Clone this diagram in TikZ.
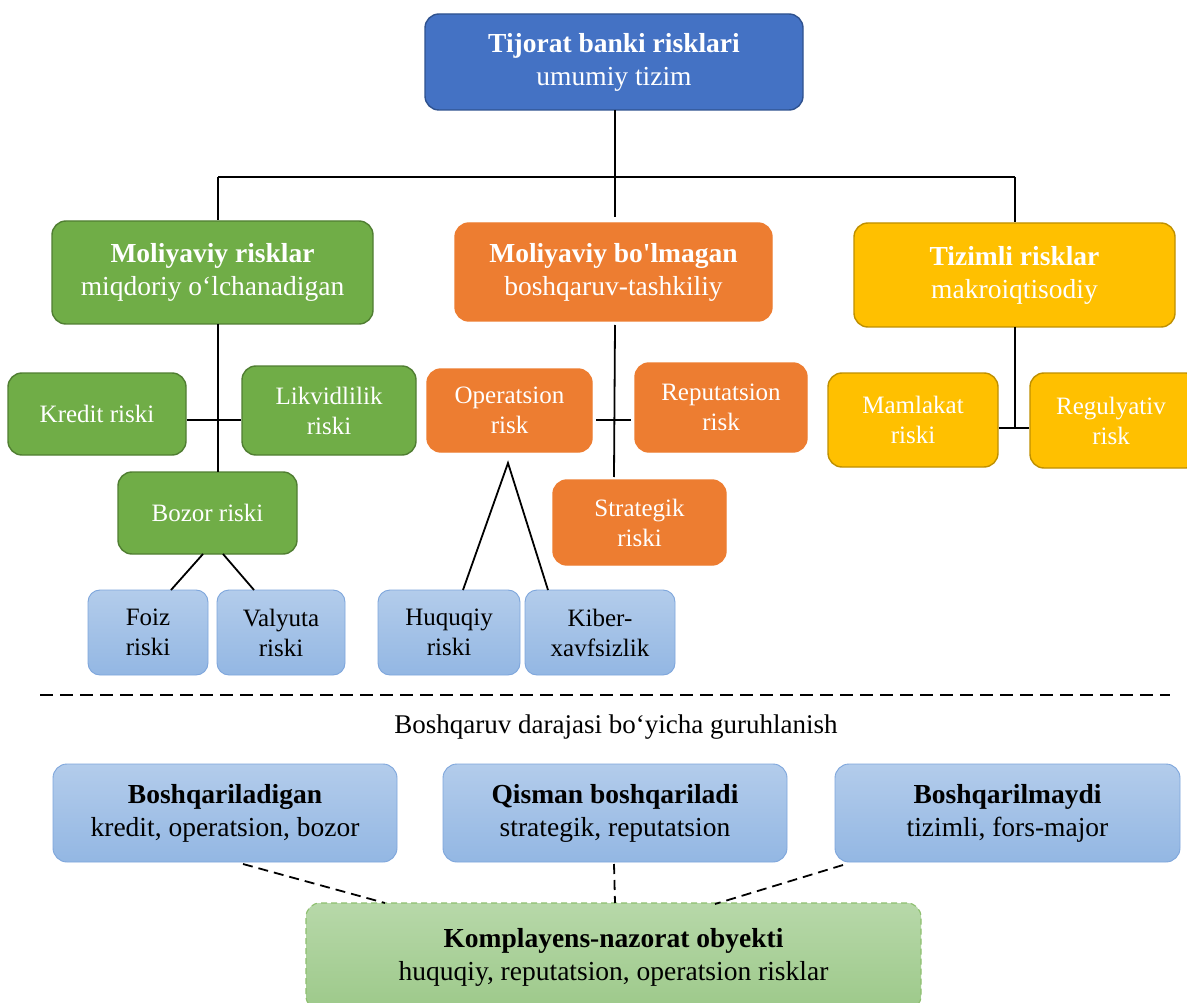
\documentclass[tikz,border=0pt]{standalone}
\usepackage{fontspec}
\setmainfont{Liberation Serif}
\definecolor{cblue}{HTML}{4472C4}
\definecolor{cblued}{HTML}{2F528F}
\definecolor{cgreen}{HTML}{70AD47}
\definecolor{cgreend}{HTML}{507E32}
\definecolor{corange}{HTML}{ED7D31}
\definecolor{cyellow}{HTML}{FFC000}
\definecolor{cyellowd}{HTML}{BF9000}
\definecolor{lbtop}{HTML}{B3CCEB}
\definecolor{lbbot}{HTML}{93B7E3}
\definecolor{lbdraw}{HTML}{7EA6DC}
\definecolor{lgtop}{HTML}{B7D8A9}
\definecolor{lgbot}{HTML}{9DC98A}
\definecolor{lgdraw}{HTML}{8DBF6E}
\tikzset{
  bx/.style={rounded corners=14pt, inner sep=0pt, align=center, line width=1.4pt},
  bigfont/.style={font=\fontsize{27.5}{33}\selectfont},
  smallfont/.style={font=\fontsize{25}{30}\selectfont},
  bluebox/.style={bx, bigfont, fill=cblue, draw=cblued, text=white},
  greenbox/.style={bx, fill=cgreen, draw=cgreend, text=white},
  orangebox/.style={bx, fill=corange, draw=corange, text=white},
  yellowbox/.style={bx, fill=cyellow, draw=cyellowd, text=white},
  lbluebox/.style={bx, rounded corners=12pt, top color=lbtop, bottom color=lbbot, draw=lbdraw, line width=0.9pt, text=black},
  lgreenbox/.style={bx, top color=lgtop, bottom color=lgbot, draw=lgdraw, dash pattern=on 6pt off 4pt, line width=1.1pt, text=black},
  conn/.style={line width=1.8pt, black},
  dconn/.style={line width=1.8pt, black, dash pattern=on 10pt off 6pt},
}
\begin{document}
\begin{tikzpicture}[x=1pt,y=-1pt]
\clip (0,0) rectangle (1187,1003);
\fill[white] (0,0) rectangle (1187,1003);

% top
\node[bluebox, minimum width=378pt, minimum height=96pt] (top) at (614,62) {\textbf{Tijorat banki risklari}\\umumiy tizim};

% level 1
\node[greenbox, bigfont, minimum width=321pt, minimum height=103pt] (fin) at (212.5,272.5) {\textbf{Moliyaviy risklar}\\miqdoriy o‘lchanadigan};
\node[orangebox, bigfont, minimum width=317pt, minimum height=98pt] (nonfin) at (613.5,272) {\textbf{Moliyaviy bo\textquotesingle lmagan}\\boshqaruv-tashkiliy};
\node[yellowbox, bigfont, minimum width=321pt, minimum height=104pt] (sys) at (1014.5,275) {\textbf{Tizimli risklar}\\makroiqtisodiy};

% green children
\node[greenbox, smallfont, minimum width=178pt, minimum height=82pt] (kredit) at (97,414) {Kredit riski};
\node[greenbox, smallfont, minimum width=174pt, minimum height=89pt] (likvid) at (329,410.5) {Likvidlilik\\riski};
\node[greenbox, smallfont, minimum width=179pt, minimum height=82pt] (bozor) at (207.5,513) {Bozor riski};
\node[lbluebox, smallfont, minimum width=120pt, minimum height=85pt] (foiz) at (148,632.5) {Foiz\\riski};
\node[lbluebox, smallfont, minimum width=128pt, minimum height=85pt] (valyuta) at (281,632.5) {Valyuta\\riski};

% orange children
\node[orangebox, smallfont, minimum width=165pt, minimum height=83pt] (oper) at (509.5,410.5) {Operatsion\\risk};
\node[orangebox, smallfont, minimum width=172pt, minimum height=89pt] (reput) at (721,407.5) {Reputatsion\\risk};
\node[orangebox, smallfont, minimum width=173pt, minimum height=85pt] (strat) at (639.5,522.5) {Strategik\\riski};
\node[lbluebox, smallfont, minimum width=142pt, minimum height=85pt] (huquq) at (449,632.5) {Huquqiy\\riski};
\node[lbluebox, smallfont, minimum width=150pt, minimum height=85pt] (kiber) at (600,632.5) {Kiber-\\xavfsizlik};

% yellow children
\node[yellowbox, smallfont, minimum width=170pt, minimum height=94pt] (mamlakat) at (913,420) {Mamlakat\\riski};
\node[yellowbox, smallfont, minimum width=170pt, minimum height=95pt, text width=150pt] (regul) at (1115,420.5) {\hspace*{-8pt}Regulyativ\\\hspace*{-8pt}risk};

% top connectors
\coordinate (j0) at (615,177);
\coordinate (jl) at (218,177);
\coordinate (jr) at (1015,177);
\draw[conn] (615,110) -- (j0);
\draw[conn] (jl) -- (jr);
\draw[conn] (j0) -- (615,217);
\draw[conn] (jl) -- (218,220);
\draw[conn] (jr) -- (1015,222);

% green connectors
\coordinate (gj) at (218,420);
\draw[conn] (218,324) -- (218,472);
\draw[conn] (kredit.east |- gj) -- (likvid.west |- gj);
\draw[conn] (203,554) -- (171,590);
\draw[conn] (223,554) -- (254,590);

% orange connectors
\draw[conn] (615,325) -- (614,477);
\draw[conn] (596,420) -- (631,420);
\coordinate (apex) at (508,463);
\draw[conn] (463,590) -- (apex) -- (548,590);

% yellow connectors
\coordinate (yj) at (1015,428);
\draw[conn] (1015,327) -- (yj);
\draw[conn] (mamlakat.east |- yj) -- (regul.west |- yj);

% separator
\coordinate (s1) at (40,695);
\coordinate (s2) at (1170,695);
\draw[line width=1.6pt, dash pattern=on 13pt off 7pt] (s1) -- (s2);
\node[font=\fontsize{27}{32}\selectfont, inner sep=0pt] (sep) at (616,727) {Boshqaruv darajasi bo‘yicha guruhlanish};

% bottom boxes
\node[lbluebox, bigfont, rounded corners=14pt, minimum width=344pt, minimum height=98pt] (b1) at (225,813) {\textbf{Boshqariladigan}\\kredit, operatsion, bozor};
\node[lbluebox, bigfont, rounded corners=14pt, minimum width=344pt, minimum height=98pt] (b2) at (615,813) {\textbf{Qisman boshqariladi}\\strategik, reputatsion};
\node[lbluebox, bigfont, rounded corners=14pt, minimum width=345pt, minimum height=98pt] (b3) at (1007.5,813) {\textbf{Boshqarilmaydi}\\tizimli, fors-major};
\node[lgreenbox, bigfont, minimum width=615pt, minimum height=107pt] (comp) at (613.5,956.5) {};
\node[bigfont, align=center, inner sep=0pt] (comptext) at (613.5,957) {\textbf{Komplayens-nazorat obyekti}\\huquqiy, reputatsion, operatsion risklar};

\draw[dconn] (243,864) -- (385,903);
\draw[dconn] (614,864) -- (615,903);
\draw[dconn] (843,865) -- (715,904);
\end{tikzpicture}
\end{document}
